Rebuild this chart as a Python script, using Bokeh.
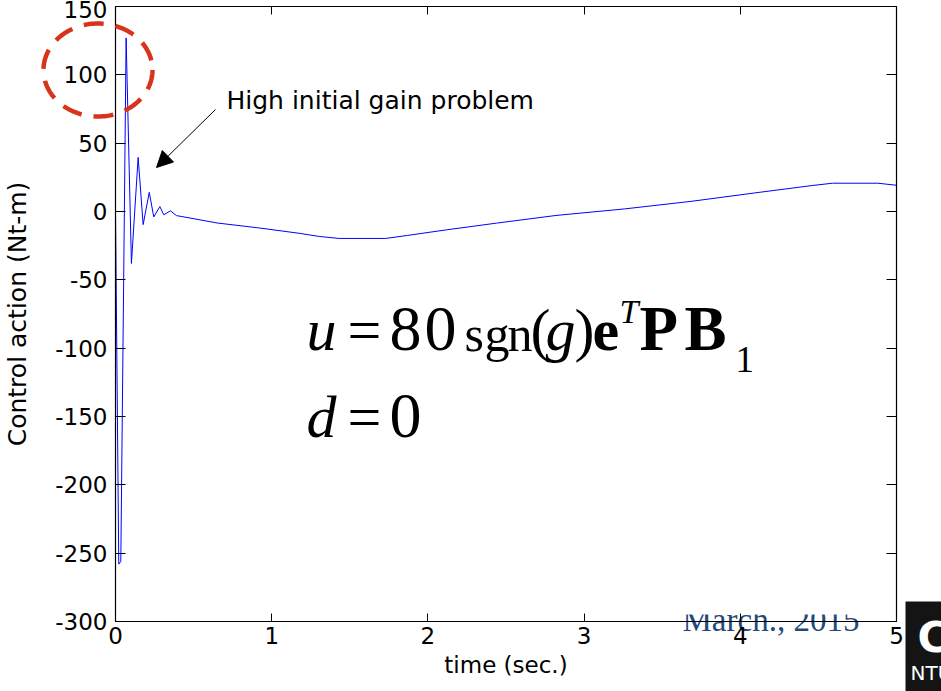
import math
from bokeh.plotting import figure
from bokeh.models import (Range1d, LinearAxis, FixedTicker, Label, Arrow, NormalHead,
                          BoxAnnotation, PolyAnnotation)
from bokeh.embed import file_html
from bokeh.resources import INLINE

# ---- data ----
time_s = [0, 0.021, 0.034, 0.068, 0.102, 0.145, 0.177, 0.216, 0.245, 0.284, 0.309,
          0.352, 0.39, 0.42, 0.65, 0.91, 1.18, 1.30, 1.43, 1.73, 1.87, 2.12, 2.44,
          2.82, 3.26, 3.69, 4.12, 4.46, 4.59, 4.88, 5.0]
control_nm = [0, -258, -256, 127, -38, 39.6, -9.6, 14, -4, 3.6, -2.4,
              0.5, -3, -3.6, -8.4, -11.9, -16, -18.2, -19.7, -19.7, -17.5, -13.4, -8.5,
              -2.9, 1.9, 7.5, 14, 19, 20.7, 20.7, 19.2]
x_ticks = [0, 1, 2, 3, 4, 5]
y_ticks = [-300, -250, -200, -150, -100, -50, 0, 50, 100, 150]
x_lim = (0, 5)
y_lim = (-300, 150)

SANS = "DejaVu Sans"
SERIF = "Liberation Serif"

W, H = 941, 691
# axes box on the page (pixels): left, right, top, bottom
BL, BR, BT, BB = 115, 896, 6, 621
ux = (x_lim[1] - x_lim[0]) / (BR - BL)
uy = (y_lim[1] - y_lim[0]) / (BB - BT)
x0 = x_lim[0] - BL * ux
x1 = x_lim[1] + (W - BR) * ux
y1 = y_lim[1] + BT * uy
y0 = y_lim[0] - (H - BB) * uy

p = figure(width=W, height=H, x_range=Range1d(x0, x1), y_range=Range1d(y0, y1),
           output_backend="svg", toolbar_location=None,
           x_axis_location=None, y_axis_location=None,
           min_border=0, min_border_left=0, min_border_right=0,
           min_border_top=0, min_border_bottom=0)
p.title.visible = False
p.grid.visible = False
p.outline_line_color = None
p.background_fill_color = "white"
p.border_fill_color = "white"

# helpers: page pixel -> data coordinates (for annotation placement only)
def dx(px):
    return x0 + px * ux

def dy(py):
    return y1 - py * uy

def label(text, px, base, size, font=SERIF, style="normal", color="black", level="annotation"):
    # base = wanted baseline (page px); small empirical correction for the renderer
    p.add_layout(Label(x=dx(px), y=dy(base - 0.34 * size), text=text, text_font=font,
                       text_font_size=f"{size}px", text_font_style=style,
                       text_color=color, text_baseline="alphabetic", level=level))

# footer text partly hidden behind the axes area
label("March., 2015", 682, 631, 33, SERIF, color="#1f4a7c", level="underlay")
p.add_layout(BoxAnnotation(left=dx(670), right=dx(893), top=dy(590), bottom=dy(614),
                           fill_color="white", fill_alpha=1, line_alpha=0, level="underlay"))

p.line(time_s, control_nm, line_color="#0000ff", line_width=1)

# axes (library axes, pinned to the box edges)
def make_axis(ticks, loc, bounds, tin, labels=True):
    ax = LinearAxis(ticker=FixedTicker(ticks=ticks), fixed_location=loc, bounds=bounds,
                    major_tick_in=tin, major_tick_out=0, minor_tick_line_color=None,
                    axis_line_color="black", axis_line_width=1.2,
                    major_tick_line_color="black",
                    major_label_text_font=SANS, major_label_text_font_size="23px",
                    major_label_text_color="black",
                    axis_label_text_font=SANS, axis_label_text_font_style="normal",
                    axis_label_text_color="black")
    if labels:
        ax.major_label_overrides = {v: str(v) for v in ticks}
    else:
        ax.major_label_overrides = {v: "" for v in ticks}
    return ax

bottom = make_axis(x_ticks, y_lim[0], x_lim, 8)
bottom.axis_label = "time (sec.)"
bottom.axis_label_text_font_size = "23px"
bottom.major_label_standoff = 5
bottom.axis_label_standoff = 5
left = make_axis(y_ticks, x_lim[0], y_lim, 10)
left.axis_label = "Control action (Nt-m)"
left.axis_label_text_font_size = "25px"
left.major_label_standoff = 8
left.axis_label_standoff = 20
top = make_axis(x_ticks, y_lim[1], x_lim, 8, labels=False)
right = make_axis(y_ticks, x_lim[1], y_lim, 10, labels=False)
p.add_layout(bottom, "below")
p.add_layout(left, "left")
p.add_layout(top, "above")
p.add_layout(right, "right")

# annotation: arrow + text
p.add_layout(Arrow(end=NormalHead(size=16, fill_color="black", line_color="black"),
                   x_start=dx(215), y_start=dy(109), x_end=dx(156), y_end=dy(167),
                   line_width=1, line_color="black"))
label("High initial gain problem", 226, 108, 25, SANS)

# red dashed ellipse
th = [2 * math.pi * i / 160 for i in range(161)]
p.add_layout(PolyAnnotation(xs=[dx(97.5 + 54.5 * math.cos(a)) for a in th],
                            ys=[dy(69.5 + 46.5 * math.sin(a)) for a in th],
                            fill_alpha=0, line_color="#d8341c", line_alpha=1, line_width=4.5,
                            line_dash="20 12", level="overlay"))

# equations
label("u", 306, 350, 60, style="italic")
label("=", 347, 350, 60)
label("8", 389, 350, 64)
label("0", 424, 350, 64)
label("s", 464, 350, 50)
label("g", 484, 350, 50)
label("n", 507, 350, 50)
label("(", 530, 350, 60)
label("g", 545, 350, 60, style="italic")
label(")", 574, 350, 60)
label("e", 592, 350, 60, style="bold")
label("T", 619, 323, 34, style="italic")
label("P", 639, 350, 63, style="bold")
label("B", 684, 350, 63, style="bold")
label("1", 735, 372, 37)
label("d", 306, 437, 60, style="italic")
label("=", 347, 437, 60)
label("0", 389, 437, 64)

# logo block at bottom right
p.add_layout(BoxAnnotation(left=dx(905), right=dx(960), top=dy(601), bottom=dy(720),
                           fill_color="#141414", fill_alpha=1, line_alpha=0, level="overlay"))
label("C", 917, 651, 42, SANS, style="bold", color="white", level="overlay")
label("NTU", 910, 679, 20, SANS, color="white", level="overlay")

open("out.html", "w").write(file_html(p, INLINE))
